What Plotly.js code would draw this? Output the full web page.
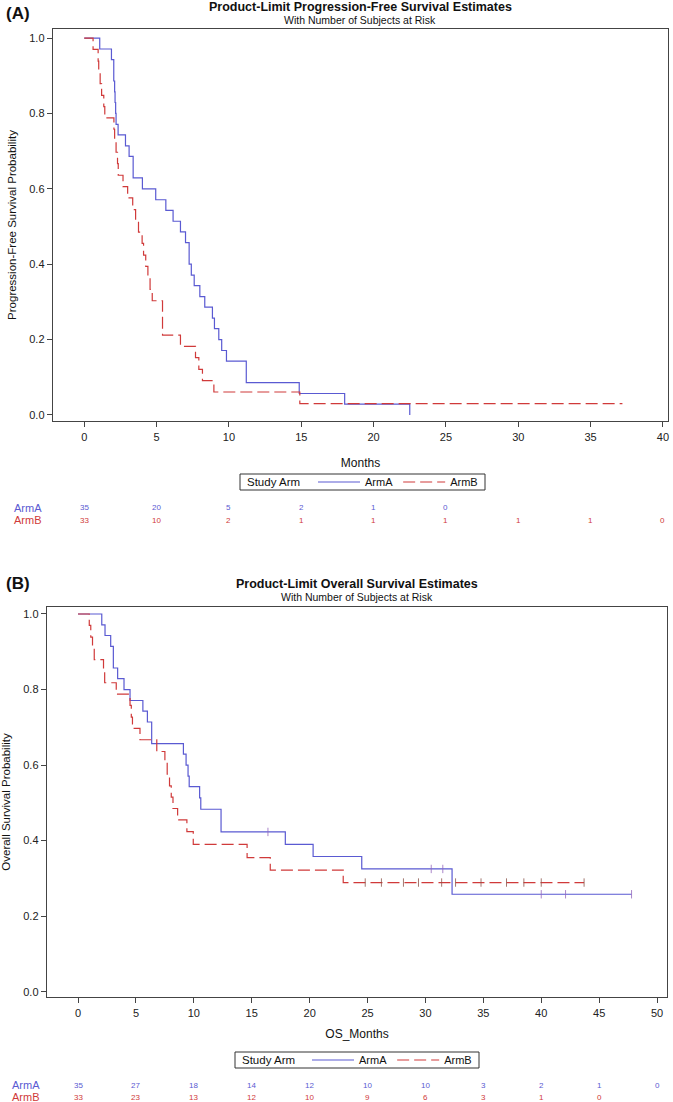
<!DOCTYPE html>
<html>
<head>
<meta charset="utf-8">
<script src="https://cdn.plot.ly/plotly-3.0.1.min.js"></script>
<style>
  body { margin: 0; background: #fff; }
  #graph { width: 673px; height: 1102px; }
</style>
</head>
<body>
<div id="graph"></div>
<script>
// Progression-free survival, Kaplan-Meier steps
const pfsA_t = [0, 1.07, 1.88, 2.04, 2.1, 2.13, 2.17, 2.2, 2.34, 2.85, 3.1, 3.38, 4.02, 4.94, 5.64, 6.14, 6.65, 7.0, 7.25, 7.4, 7.6, 7.99, 8.33, 8.86, 9.0, 9.3, 9.5, 9.83, 11.2, 14.86, 18.0, 22.5];
const pfsA_s = [1, 0.971, 0.943, 0.886, 0.857, 0.829, 0.8, 0.771, 0.743, 0.714, 0.686, 0.629, 0.6, 0.571, 0.543, 0.514, 0.486, 0.457, 0.4, 0.371, 0.343, 0.314, 0.286, 0.257, 0.229, 0.2, 0.171, 0.143, 0.086, 0.057, 0.029, 0];
const pfsB_t = [0, 0.61, 0.96, 1.0, 1.1, 1.2, 1.35, 1.42, 2.05, 2.1, 2.2, 2.3, 2.35, 2.68, 3.0, 3.35, 3.55, 3.75, 4.0, 4.1, 4.25, 4.4, 4.55, 4.7, 5.41, 6.65, 7.69, 7.92, 8.17, 8.96, 14.9, 37.2];
const pfsB_s = [1, 0.970, 0.939, 0.909, 0.879, 0.848, 0.818, 0.788, 0.758, 0.727, 0.697, 0.667, 0.636, 0.606, 0.576, 0.545, 0.515, 0.485, 0.455, 0.424, 0.394, 0.364, 0.333, 0.303, 0.212, 0.182, 0.152, 0.121, 0.091, 0.061, 0.030, 0.030];

// Overall survival, panel (B)
const osA_t = [0, 2.05, 2.33, 2.82, 3.05, 3.42, 3.97, 4.49, 5.6, 5.99, 6.36, 9.1, 9.33, 9.5, 9.6, 10.5, 10.6, 12.35, 17.9, 20.3, 24.5, 32.3, 47.8];
const osA_s = [1, 0.971, 0.943, 0.914, 0.857, 0.829, 0.8, 0.771, 0.743, 0.714, 0.657, 0.629, 0.6, 0.571, 0.543, 0.513, 0.483, 0.423, 0.39, 0.358, 0.325, 0.258, 0.258];
const osB_t = [0, 0.97, 1.1, 1.25, 1.4, 2.2, 2.3, 3.3, 4.49, 4.6, 4.7, 5.35, 6.8, 7.5, 7.7, 7.9, 8.05, 8.2, 8.6, 9.4, 9.95, 14.6, 16.6, 22.9, 43.7];
const osB_s = [1, 0.970, 0.939, 0.909, 0.879, 0.848, 0.818, 0.788, 0.758, 0.727, 0.697, 0.667, 0.636, 0.606, 0.576, 0.545, 0.515, 0.485, 0.455, 0.424, 0.39, 0.355, 0.322, 0.289, 0.289];

// censoring marks
const censOsA_t = [16.4, 30.5, 31.5, 40.0, 42.1, 47.8];
const censOsA_s = [0.423, 0.325, 0.325, 0.258, 0.258, 0.258];
const censOsB_t = [24.8, 26.2, 28.1, 29.4, 31.4, 32.6, 34.8, 37.0, 38.5, 40.0, 43.7];
const censOsB_s = [0.289, 0.289, 0.289, 0.289, 0.289, 0.289, 0.289, 0.289, 0.289, 0.289, 0.289];

// number at risk
const pfsRiskT = [0, 5, 10, 15, 20, 25, 30, 35, 40];
const pfsRiskA = [35, 20, 5, 2, 1, 0];
const pfsRiskB = [33, 10, 2, 1, 1, 1, 1, 1, 0];
const osRiskT = [0, 5, 10, 15, 20, 25, 30, 35, 40, 45, 50];
const osRiskA = [35, 27, 18, 14, 12, 10, 10, 3, 2, 1, 0];
const osRiskB = [33, 23, 13, 12, 10, 9, 6, 3, 1, 0];

const blue = '#5a5ad2';
const red = '#d03a3a';
const W = 673, H = 1102;
const FONT = 'Liberation Sans, Arial, sans-serif';

// pixel helpers for layout
const px = v => v / W;
const py = v => 1 - v / H;

function km(t, s, name, color, dash, xa, ya, leg) {
    return {
        x: t, y: s, type: 'scatter', mode: 'lines', name: name,
        line: { shape: 'hv', color: color, width: 1.2, dash: dash },
        xaxis: xa, yaxis: ya, legend: leg, hoverinfo: 'skip'
    };
}
function cens(t, s, color, xa, ya) {
    return {
        x: t, y: s, type: 'scatter', mode: 'markers', showlegend: false,
        marker: { symbol: 'line-ns-open', size: 6, line: { color: color, width: 0.8 } },
        xaxis: xa, yaxis: ya, hoverinfo: 'skip'
    };
}

const traces = [
    km(pfsA_t, pfsA_s, 'ArmA', blue, 'solid', 'x', 'y', 'legend'),
    km(pfsB_t, pfsB_s, 'ArmB', red, '12px,5px', 'x', 'y', 'legend'),
    km(osA_t, osA_s, 'ArmA', blue, 'solid', 'x2', 'y2', 'legend2'),
    km(osB_t, osB_s, 'ArmB', red, '12px,5px', 'x2', 'y2', 'legend2'),
    cens(censOsA_t, censOsA_s, blue, 'x2', 'y2'),
    cens(censOsB_t, censOsB_s, red, 'x2', 'y2')
];

const axBase = {
    showline: true, mirror: true, linecolor: '#444', linewidth: 1.3,
    ticks: 'outside', ticklen: 5, tickcolor: '#444', tickwidth: 1,
    showgrid: false, zeroline: false, fixedrange: true,
    tickfont: { family: FONT, size: 11, color: '#222' }
};
const yTicks = [0, 0.2, 0.4, 0.6, 0.8, 1.0];

const annotations = [];
function txt(x, y, text, size, opts) {
    annotations.push(Object.assign({
        xref: 'paper', yref: 'paper', x: x, y: y, text: text, showarrow: false,
        yanchor: 'middle',
        font: { family: FONT, size: size, color: '#111' }
    }, opts || {}));
}
// panel labels and titles
txt(px(4), py(13), '<b>(A)</b>', 17, { xanchor: 'left' });
txt(px(360), py(7), '<b>Product-Limit Progression-Free Survival Estimates</b>', 12.5);
txt(px(360), py(20), 'With Number of Subjects at Risk', 10.5);
txt(px(4), py(583), '<b>(B)</b>', 17, { xanchor: 'left' });
txt(px(357), py(584), '<b>Product-Limit Overall Survival Estimates</b>', 12.5);
txt(px(357), py(597), 'With Number of Subjects at Risk', 10.5);

// legend frames with the "Study Arm" caption
const shapes = [];
function legendFrame(x0, x1, y0, y1) {
    shapes.push({ type: 'rect', xref: 'paper', yref: 'paper', x0: px(x0), x1: px(x1), y0: py(y1), y1: py(y0),
        line: { color: '#333', width: 1 }, fillcolor: 'rgba(0,0,0,0)' });
    txt(px(x0 + 5), py((y0 + y1) / 2), 'Study Arm', 11.5, { xanchor: 'left' });
}
legendFrame(240, 485, 474, 490);
legendFrame(235, 479, 1052, 1068);

// at-risk tables
function riskRow(times, counts, xa, yPix, color, label, labelX) {
    txt(px(labelX), py(yPix), label, 11, { xanchor: 'left', font: { family: FONT, size: 11, color: color } });
    counts.forEach((n, i) => {
        annotations.push({
            xref: xa, yref: 'paper', x: times[i], y: py(yPix), yanchor: 'middle', text: String(n), showarrow: false,
            font: { family: FONT, size: 8, color: color }
        });
    });
}
riskRow(pfsRiskT, pfsRiskA, 'x', 508, blue, 'ArmA', 12);
riskRow(pfsRiskT, pfsRiskB, 'x', 520, red, 'ArmB', 12);
riskRow(osRiskT, osRiskA, 'x2', 1085, blue, 'ArmA', 10);
riskRow(osRiskT, osRiskB, 'x2', 1097, red, 'ArmB', 10);

const legBase = {
    orientation: 'h', xanchor: 'left', yanchor: 'middle',
    borderwidth: 0, bgcolor: 'rgba(0,0,0,0)',
    font: { family: FONT, size: 11, color: '#111' },
    itemclick: false, itemdoubleclick: false, tracegroupgap: 0, itemwidth: 42
};

const layout = {
    width: W, height: H,
    margin: { l: 0, r: 0, t: 0, b: 0 },
    paper_bgcolor: '#fff', plot_bgcolor: '#fff',
    font: { family: FONT },
    showlegend: true,
    xaxis: Object.assign({}, axBase, {
        domain: [px(53), px(668)], range: [-2.16, 40.35], anchor: 'y',
        tickvals: pfsRiskT,
        title: { text: 'Months', standoff: 17, font: { family: FONT, size: 12, color: '#111' } }
    }),
    yaxis: Object.assign({}, axBase, {
        domain: [py(421), py(29)], range: [-0.016, 1.024], anchor: 'x',
        tickvals: yTicks, tickformat: '.1f',
        title: { text: 'Progression-Free Survival Probability', standoff: 10, font: { family: FONT, size: 11.5, color: '#111' } }
    }),
    xaxis2: Object.assign({}, axBase, {
        domain: [px(47), px(667)], range: [-2.68, 50.86], anchor: 'y2',
        tickvals: osRiskT,
        title: { text: 'OS_Months', standoff: 12, font: { family: FONT, size: 12, color: '#111' } }
    }),
    yaxis2: Object.assign({}, axBase, {
        domain: [py(997), py(607)], range: [-0.014, 1.0185], anchor: 'x2',
        tickvals: yTicks, tickformat: '.1f',
        title: { text: 'Overall Survival Probability', standoff: 10, font: { family: FONT, size: 11.5, color: '#111' } }
    }),
    legend: Object.assign({}, legBase, { x: px(313), y: py(482) }),
    legend2: Object.assign({}, legBase, { x: px(307), y: py(1060) }),
    shapes: shapes,
    annotations: annotations
};

Plotly.newPlot('graph', traces, layout, { displayModeBar: false, staticPlot: true });
</script>
</body>
</html>
